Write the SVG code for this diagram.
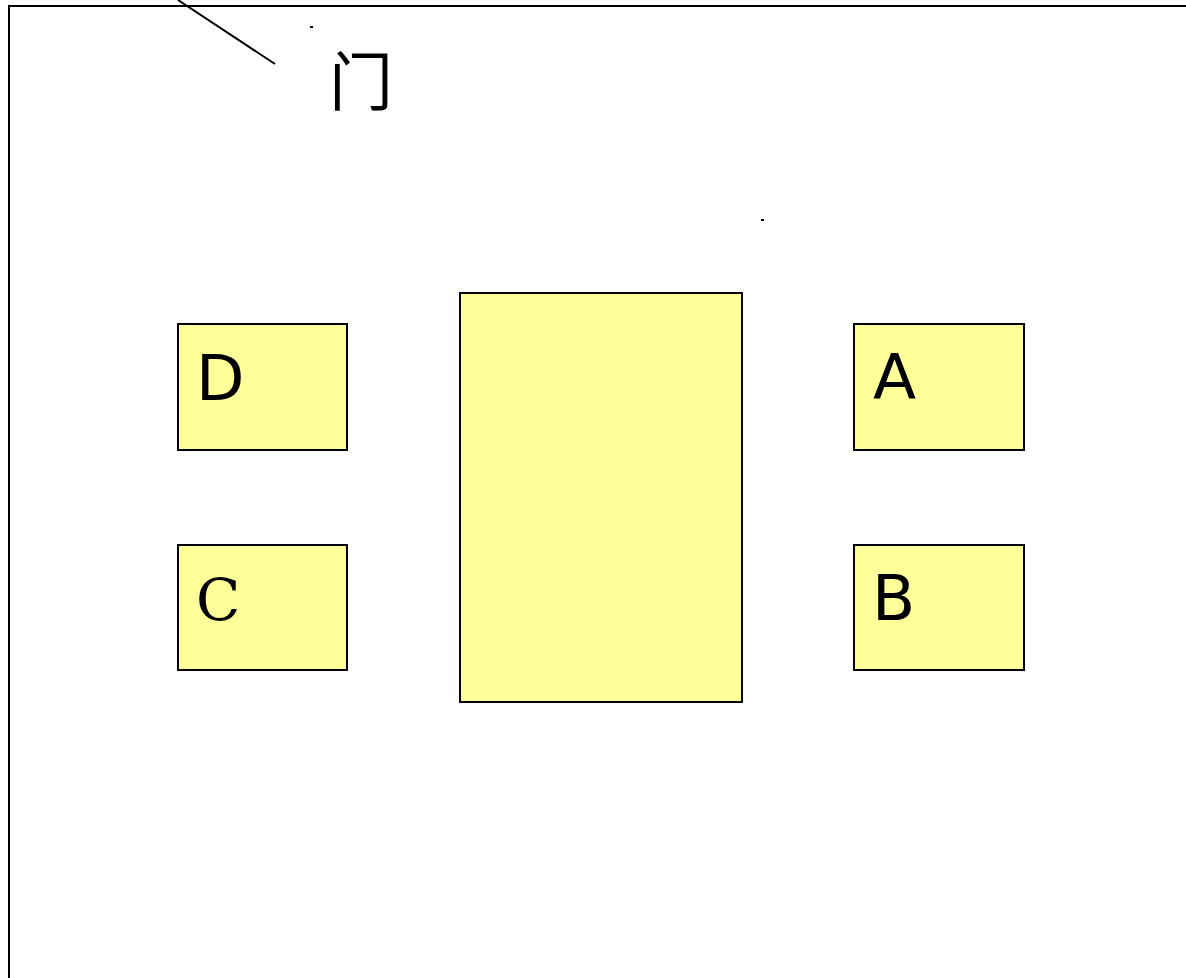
<svg xmlns="http://www.w3.org/2000/svg" width="1186" height="978" viewBox="0 0 1186 978">
<style>
.box{fill:#FFFF99;stroke:#000;stroke-width:2}
.ln{stroke:#000;stroke-width:2;fill:none}
.sans{font-family:"DejaVu Sans","Liberation Sans",sans-serif;font-size:63px;fill:#000}
.serif{font-family:"DejaVu Serif","Liberation Serif",serif;font-size:58px;fill:#000}
.cjk{font-family:"Noto Sans CJK SC","Noto Sans",sans-serif;font-size:64px;fill:#000}
</style>
<rect x="9" y="6" width="1190" height="990" fill="#fff" stroke="#000" stroke-width="2"/>
<g id="connectors">
<line class="ln" x1="178" y1="0" x2="275" y2="64"/>
<rect x="310" y="26" width="3" height="2" fill="#000"/>
<rect x="761" y="219" width="3" height="2" fill="#000"/>
</g>
<g id="door"><text class="cjk" x="329" y="105">门</text></g>
<g id="table"><rect class="box" x="460" y="293" width="282" height="409"/></g>
<g id="D"><rect class="box" x="178" y="324" width="169" height="126"/><text class="sans" x="196" y="400">D</text></g>
<g id="A"><rect class="box" x="854" y="324" width="170" height="126"/><text class="sans" x="873" y="399">A</text></g>
<g id="C"><rect class="box" x="178" y="545" width="169" height="125"/><text class="serif" x="196" y="620">C</text></g>
<g id="B"><rect class="box" x="854" y="545" width="170" height="125"/><text class="sans" x="872" y="620">B</text></g>
</svg>
